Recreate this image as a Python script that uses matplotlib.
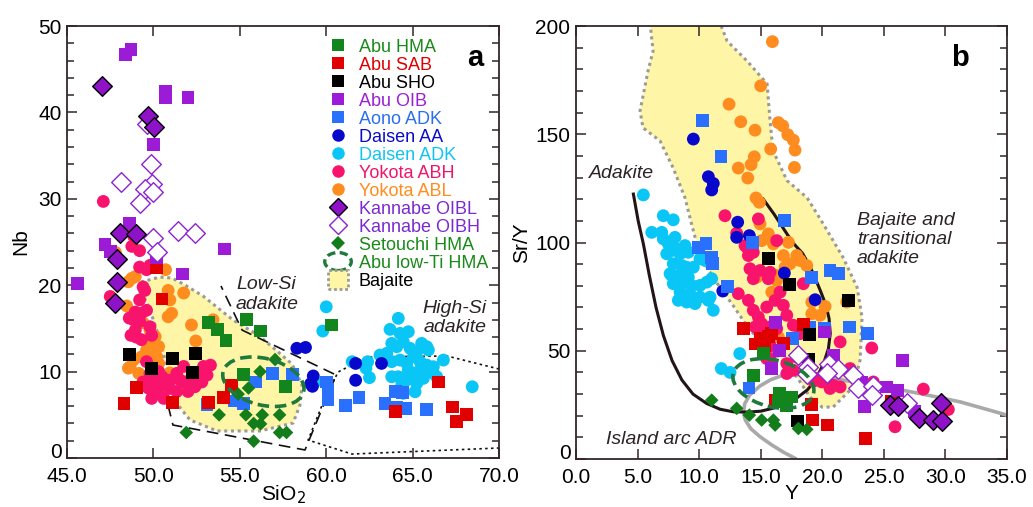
import matplotlib
matplotlib.use("Agg")
import matplotlib.pyplot as plt
import matplotlib.patches as mpatches
from matplotlib.lines import Line2D
from matplotlib.legend_handler import HandlerPatch
from matplotlib.ticker import MultipleLocator, FormatStrFormatter

plt.rcParams['font.family'] = ['Liberation Sans', 'DejaVu Sans']

# ---------------- panel a : SiO2 vs Nb ----------------
a_hma_x = [53.2, 53.7, 54.2, 55.4, 56.2, 55.2, 57.65, 60.3]
a_hma_y = [15.7, 14.9, 13.6, 16.0, 14.7, 9.7, 8.3, 15.4]
a_sab_x = [50.5, 50.2, 49.0, 48.3, 51.1, 54.5, 54.05, 53.2, 66.5, 67.3, 68.1, 67.55, 64.0]
a_sab_y = [18.4, 22.0, 8.2, 6.3, 6.4, 8.4, 7.0, 6.4, 8.8, 5.9, 5.0, 4.2, 5.4]
a_sho_x = [48.6, 49.9, 51.1, 52.45, 52.25]
a_sho_y = [12.0, 10.4, 11.5, 12.1, 9.9]
a_oib_x = [48.4, 48.7, 50.7, 50.7, 52.0, 50.0, 50.2, 54.1, 48.6, 47.2, 47.5, 51.7, 45.6]
a_oib_y = [46.7, 47.3, 42.4, 41.7, 41.7, 36.3, 23.2, 24.2, 27.1, 24.7, 23.9, 21.3, 20.2]
a_aono_x = [53.1, 54.7, 55.2, 55.9, 56.9, 58.05, 60.0, 60.1, 60.1, 61.1, 61.9, 63.4, 64.0, 64.4,
            64.1, 64.6, 65.8]
a_aono_y = [6.2, 6.6, 6.3, 8.8, 9.8, 9.7, 8.8, 7.9, 6.8, 6.1, 7.0, 6.3, 7.7, 7.6, 5.9, 5.75, 5.6]
a_daa_x = [58.3, 58.8, 59.25, 59.1, 59.2, 61.7, 61.7, 63.2]
a_daa_y = [12.7, 12.8, 9.5, 8.6, 8.3, 10.95, 9.0, 10.95]
a_dadk_x = [60.0, 59.8, 59.35, 61.5, 62.4, 62.3, 62.5, 64.17, 63.69, 63.79, 64.27, 64.75, 64.46,
            65.52, 65.82, 65.91, 63.11, 63.5, 63.79, 64.27, 64.66, 65.04, 65.24, 65.43, 65.82,
            66.2, 65.33, 64.95, 64.66, 65.24, 65.62, 66.2, 66.78, 65.14, 64.46, 63.79, 64.17,
            68.45, 66.39, 64.08, 64.85, 65.62, 64.75, 64.37]
a_dadk_y = [17.5, 14.7, 8.8, 11.15, 11.15, 10.4, 9.3, 16.17, 14.89, 13.27, 14.43, 14.62, 13.46,
            13.27, 12.88, 12.5, 11.92, 12.12, 11.15, 11.34, 10.96, 11.72, 12.3, 11.15, 10.76,
            10.57, 9.99, 9.41, 9.03, 8.65, 9.22, 9.8, 11.34, 7.67, 7.49, 9.41, 9.41,
            8.25, 9.41, 12.88, 12.7, 10.38, 10.19, 8.45]
a_abh_x = [47.1, 48.55, 48.85, 48.75, 49.2, 49.2, 49.8, 49.6, 49.5, 49.2, 49.4, 47.5, 48.95, 49.3,
           48.85, 49.2, 49.6, 48.95, 49.0, 49.3, 48.7, 49.8, 49.9, 50.0, 49.7, 50.2, 50.6, 50.4,
           50.95, 51.35, 51.75, 52.1, 52.6, 52.9, 53.1, 52.8, 52.4, 52.0, 51.55, 50.95, 50.5,
           51.35, 50.3, 49.8, 49.6, 51.75, 53.3, 49.9, 49.4, 48.6]
a_abh_y = [29.7, 26.5, 25.7, 24.5, 24.0, 22.1, 22.3, 21.8, 19.4, 18.3, 19.8, 18.7, 16.9, 16.75,
           16.0, 15.8, 17.1, 14.8, 14.0, 13.7, 14.2, 15.2, 14.2, 9.0, 8.1, 7.5, 6.9, 8.25,
           8.05, 7.7, 8.8, 9.0, 9.8, 10.6, 9.6, 8.8, 8.25, 7.7, 9.0, 9.0, 9.4,
           9.8, 10.0, 9.8, 11.15, 10.6, 10.75, 6.9, 8.8, 16.2]
a_abl_x = [47.8, 50.7, 48.75, 48.55, 48.95, 48.45, 50.85, 51.75, 50.95, 51.05, 50.85, 53.45, 52.2,
           52.45, 49.4, 49.8, 50.1, 49.9, 50.3, 50.0, 49.6, 50.2, 49.3, 48.85, 48.65, 49.15,
           48.55, 50.95, 50.25, 50.3]
a_abl_y = [23.8, 21.8, 20.8, 20.4, 21.0, 17.6, 19.4, 19.1, 18.3, 16.75, 16.35, 16.0, 15.4,
           13.55, 15.65, 14.8, 14.05, 13.3, 12.9, 12.3, 12.5, 11.7, 11.7, 11.35, 10.55, 9.8,
           10.4, 9.85, 9.2, 10.95]
a_oibl_x = [47.0, 49.7, 50.05, 48.05, 49.0, 47.9, 47.9, 47.8]
a_oibl_y = [43.1, 39.6, 38.3, 26.0, 25.9, 23.0, 20.4, 18.0]
a_oibh_x = [49.6, 49.85, 48.1, 49.9, 49.5, 50.0, 49.2, 51.4, 52.4, 50.0, 50.2]
a_oibh_y = [38.7, 34.0, 32.0, 31.7, 31.1, 30.8, 29.5, 26.3, 26.0, 25.5, 23.9]
a_seto_x = [57.04, 56.17, 55.5, 54.9, 53.8, 55.35, 56.3, 57.3, 55.8, 56.2, 57.3, 57.7, 51.9, 55.8]
a_seto_y = [11.4, 10.0, 8.1, 7.4, 5.0, 5.0, 5.0, 5.0, 4.0, 3.95, 2.95, 2.95, 2.95, 1.95]

# field outlines, panel a
a_bajaite_x = [49.28, 50.38, 51.08, 51.83, 52.87, 54.61, 56.05, 57.09, 58.02, 58.6, 58.48, 58.08,
               56.17, 53.68, 52.12, 51.42, 50.96, 50.38, 49.8, 49.4]
a_bajaite_y = [20.37, 20.95, 20.83, 20.02, 18.75, 15.97, 14.24, 12.5, 10.88, 8.45, 6.13, 4.05,
               3.13, 3.13, 4.4, 6.13, 9.03, 13.66, 17.13, 18.87]
a_lowsi_x = [50.84, 51.13, 58.77, 60.57, 55.13, 53.91]
a_lowsi_y = [6.13, 3.82, 0.93, 9.61, 14.81, 19.91]
a_highsi_x = [70.0, 66.99, 62.36, 60.68, 59.76, 58.95, 61.49, 70.0]
a_highsi_y = [10.3, 11.81, 11.69, 9.95, 6.13, 2.08, 0.46, 1.16]
a_lowti_center = (56.36, 8.83)

# ---------------- panel b : Y vs Sr/Y ----------------
b_hma_x = [14.4, 15.22, 16.52, 17.5, 17.08, 16.43]
b_hma_y = [38.7, 48.7, 30.3, 28.7, 24.9, 26.4]
b_sab_x = [13.59, 14.95, 15.62, 14.6, 15.35, 15.9, 18.46, 16.2, 19.15, 19.2, 20.45, 23.48, 25.64,
           16.84]
b_sab_y = [60.2, 55.8, 56.6, 53.1, 52.5, 57.9, 62.2, 27.0, 25.3, 18.0, 15.7, 9.5, 26.4, 53.3]
b_sho_x = [15.62, 17.33, 22.12, 18.95, 18.87, 18.01]
b_sho_y = [92.5, 80.6, 73.3, 57.5, 45.9, 17.6]
b_oib_x = [16.2, 20.17, 16.5, 20.9, 15.9, 23.2, 25.2, 26.1, 26.5, 23.4, 27.5]
b_oib_y = [62.9, 58.7, 50.0, 47.7, 41.8, 35.6, 33.3, 31.8, 45.6, 24.1, 21.8]
b_aono_x = [10.26, 11.78, 16.92, 9.94, 10.56, 11.02, 11.1, 14.35, 20.63, 21.31, 19.15, 12.32, 17.6,
            19.01, 20.2, 22.2, 23.7, 14.05]
b_aono_y = [156.5, 139.8, 110.1, 97.8, 99.4, 93.2, 90.2, 99.9, 87.1, 85.6, 84.0, 79.7, 55.6,
            61.0, 60.2, 61.0, 57.9, 32.8]
b_daa_x = [9.53, 10.75, 11.15, 11.02, 13.13, 14.08, 13.05, 16.92, 11.92, 19.42]
b_daa_y = [147.8, 130.4, 127.3, 124.3, 109.4, 103.2, 102.4, 85.9, 77.6, 73.6]
b_dadk_x = [5.47, 7.09, 7.9, 6.15, 6.96, 7.09, 8.04, 7.5, 7.77, 8.18, 8.85, 8.45, 7.37, 7.9, 8.59,
            8.99, 7.64, 8.31, 9.12, 7.9, 8.59, 9.4, 8.45, 9.26, 10.07, 10.62, 11.02, 10.89, 10.07,
            11.15, 10.48, 10.75, 8.31, 8.99, 9.67, 10.75, 9.12, 9.53, 10.07, 13.3, 11.8, 12.51,
            7.77]
b_dadk_y = [122.0, 112.4, 110.5, 104.7, 104.7, 101.7, 102.4, 99.4, 96.3, 97.1, 98.6, 94.8, 94.8,
            90.2, 89.4, 88.6, 85.6, 84.8, 84.0, 81.0, 81.0, 80.2, 77.1, 76.4, 80.2, 81.7, 83.3,
            74.8, 74.8, 68.7, 91.7, 92.5, 73.3, 72.5, 71.8, 73.3, 95.5, 88.6, 92.5, 48.7, 41.8,
            40.0, 84.8]
b_abh_x = [12.1, 13.05, 14.81, 13.73, 14.13, 14.4, 14.95, 13.18, 15.76, 16.3, 18.46, 13.87, 14.0,
           14.4, 15.62, 16.57, 16.84, 16.17, 15.49, 14.0, 14.4, 14.81, 15.08, 14.54, 15.22, 15.76,
           16.3, 17.12, 17.65, 18.2, 21.45, 15.62, 15.76, 17.12, 17.93, 17.65, 18.74, 19.55,
           19.96, 20.63, 21.45, 22.26, 17.12, 24.02, 28.21, 30.24, 25.91, 24.15, 20.9, 15.49,
           15.76, 19.3]
b_abh_y = [112.4, 104.3, 110.9, 98.6, 87.9, 83.3, 87.1, 76.4, 86.3, 100.9, 81.0, 97.8, 94.0,
           95.5, 83.3, 77.1, 71.0, 73.3, 70.2, 73.3, 68.7, 65.6, 62.5, 61.0, 59.4, 61.0,
           60.2, 66.4, 61.8, 57.9, 54.1, 51.8, 46.4, 44.1, 47.1, 41.0, 41.8, 37.2,
           35.6, 32.6, 33.3, 41.8, 39.5, 51.3, 32.3, 22.9, 14.9, 35.6, 34.1, 46.4,
           52.5, 36.0]
b_abl_x = [15.95, 15.0, 12.43, 13.38, 14.54, 16.43, 16.79, 17.2, 17.65, 17.79, 15.81, 14.48, 14.22,
           13.18, 13.95, 17.74, 14.62, 14.89, 14.95, 15.62, 16.03, 15.08, 17.25, 16.84, 17.93,
           18.2, 18.74, 17.38, 16.3, 15.9, 19.15, 20.23, 19.82, 21.99, 16.43, 14.68, 16.98,
           19.15, 16.3]
b_abl_y = [192.8, 172.4, 163.9, 155.8, 151.9, 155.4, 153.9, 149.8, 147.3, 142.7, 143.2, 139.6,
           136.0, 134.4, 129.8, 134.7, 120.6, 118.6, 108.6, 104.0, 99.4, 100.9, 100.1, 94.0,
           94.0, 91.7, 89.4, 90.2, 84.8, 77.1, 72.5, 70.5, 66.4, 72.5, 56.4, 84.0, 88.6,
           67.1, 82.5]
b_oibl_x = [25.51, 26.18, 27.89, 29.02, 29.71, 29.65]
b_oibl_y = [24.9, 24.4, 18.8, 18.0, 17.6, 25.7]
b_oibh_x = [18.06, 18.87, 18.74, 20.58, 21.31, 20.37, 22.48, 22.93, 24.15, 24.02, 26.86]
b_oibh_y = [47.9, 42.5, 39.2, 44.1, 41.8, 39.8, 38.7, 32.9, 33.6, 29.5, 25.9]
b_seto_x = [11.02, 13.05, 14.08, 15.08, 16.03, 16.17, 18.06, 18.74]
b_seto_y = [27.2, 23.4, 20.3, 18.0, 18.0, 15.7, 14.1, 13.7]

# field outlines, panel b
b_bajaite_x = [6.01, 6.26, 5.85, 5.2, 5.44, 6.82, 7.88, 8.85, 9.42, 10.07, 11.29, 12.75, 14.13,
               16.41, 17.95, 19.01, 19.98, 20.88, 22.5, 23.07, 23.23, 22.83, 21.69, 20.06, 18.77,
               17.14, 16.0, 15.76, 15.52, 13.89, 12.27, 11.7]
b_bajaite_y = [201.4, 188.5, 179.3, 160.8, 153.0, 147.0, 134.6, 120.7, 107.8, 94.0, 82.5, 71.0,
               59.4, 47.5, 37.8, 28.6, 24.0, 24.0, 33.2, 45.6, 65.4, 79.3, 93.1, 108.8, 120.7,
               128.6, 142.4, 156.2, 173.3, 183.9, 193.1, 201.4]
b_adakite_x = [4.66, 5.05, 5.47, 5.95, 6.5, 7.1, 7.8, 8.6, 9.5, 10.6, 11.7, 12.8, 14.0, 15.0, 16.1,
               17.1, 18.0, 18.8, 19.5, 20.1, 20.5, 20.65, 20.55, 20.3, 19.9, 19.5, 19.0, 18.4,
               17.6, 16.9, 16.1, 15.2]
b_adakite_y = [122.4, 110.0, 99.4, 85.0, 70.0, 57.0, 45.5, 36.5, 30.0, 25.7, 23.0, 21.8, 21.7,
               22.1, 23.6, 25.7, 28.5, 32.0, 37.0, 44.0, 51.0, 58.0, 65.0, 71.0, 77.0, 82.5,
               89.0, 95.0, 100.0, 106.0, 113.0, 120.1]
b_adr_x = [17.9, 16.9, 15.9, 14.95, 14.2, 13.75, 13.6, 13.7, 14.1, 14.95, 15.8, 16.6, 17.8, 19.0,
           20.3, 21.7, 23.7, 25.8, 28.5, 31.2, 35.0]
b_adr_y = [0.0, 3.0, 6.5, 10.3, 14.0, 18.0, 21.5, 25.5, 29.5, 33.8, 36.6, 38.3, 39.2, 39.5,
           38.3, 36.4, 34.6, 32.6, 29.6, 26.4, 20.3]
b_lowti_center = (16.03, 34.9)

YELLOW = '#FFF5A6'
GRAY_EDGE = '#9A9A9A'
LOWTI_GREEN = '#1E7A3C'
TEXT_DARK = '#2B2326'
SPINE = '#33262A'

# series style: label, marker, size, face, edge, text colour
STYLE = {
    'abl':  ('Yokota ABL', 'o', 85, '#FF8C1E', 'none', '#FF8C1E'),
    'abh':  ('Yokota ABH', 'o', 85, '#F8146C', 'none', '#F0146A'),
    'dadk': ('Daisen ADK', 'o', 85, '#0AC6F6', 'none', '#10C4F2'),
    'daa':  ('Daisen AA', 'o', 85, '#0808CC', 'none', '#0A0ACD'),
    'aono': ('Aono ADK', 's', 85, '#2A70FF', 'none', '#2A6EF0'),
    'sab':  ('Abu SAB', 's', 85, '#E00000', 'none', '#E00000'),
    'oib':  ('Abu OIB', 's', 85, '#9B1BD6', 'none', '#9B1FD6'),
    'hma':  ('Abu HMA', 's', 85, '#12861C', 'none', '#1A8A1A'),
    'sho':  ('Abu SHO', 's', 85, '#000000', 'none', '#000000'),
    'seto': ('Setouchi HMA', 'D', 48, '#137C1B', 'none', '#1A8A1A'),
    'oibh': ('Kannabe OIBH', 'D', 100, 'white', '#8E22D2', '#7A2AD0'),
    'oibl': ('Kannabe OIBL', 'D', 100, '#8E12C8', '#000000', '#7A2AD0'),
}
DRAW_ORDER = ['abl', 'abh', 'dadk', 'daa', 'aono', 'sab', 'oib', 'hma', 'sho', 'seto', 'oibh', 'oibl']
LEGEND_ORDER = ['hma', 'sab', 'sho', 'oib', 'aono', 'daa', 'dadk', 'abh', 'abl', 'oibl', 'oibh', 'seto']

A_DATA = {'hma': (a_hma_x, a_hma_y), 'sab': (a_sab_x, a_sab_y), 'sho': (a_sho_x, a_sho_y),
          'oib': (a_oib_x, a_oib_y), 'aono': (a_aono_x, a_aono_y), 'daa': (a_daa_x, a_daa_y),
          'dadk': (a_dadk_x, a_dadk_y), 'abh': (a_abh_x, a_abh_y), 'abl': (a_abl_x, a_abl_y),
          'oibl': (a_oibl_x, a_oibl_y), 'oibh': (a_oibh_x, a_oibh_y), 'seto': (a_seto_x, a_seto_y)}
B_DATA = {'hma': (b_hma_x, b_hma_y), 'sab': (b_sab_x, b_sab_y), 'sho': (b_sho_x, b_sho_y),
          'oib': (b_oib_x, b_oib_y), 'aono': (b_aono_x, b_aono_y), 'daa': (b_daa_x, b_daa_y),
          'dadk': (b_dadk_x, b_dadk_y), 'abh': (b_abh_x, b_abh_y), 'abl': (b_abl_x, b_abl_y),
          'oibl': (b_oibl_x, b_oibl_y), 'oibh': (b_oibh_x, b_oibh_y), 'seto': (b_seto_x, b_seto_y)}


def draw_points(ax, data):
    for key in DRAW_ORDER:
        label, marker, size, face, edge, _ = STYLE[key]
        xs, ys = data[key]
        lw = 1.0 if edge != 'none' else 0
        ax.scatter(xs, ys, s=size, marker=marker, c=face, edgecolors=edge,
                   linewidths=lw, zorder=4, clip_on=False)


def lowti_ellipse(ax, center):
    # dashed outline for the Abu low-Ti HMA group, drawn in axes fraction
    cx, cy = ax.transLimits.transform(center)
    e = mpatches.Ellipse((cx, cy), 0.192, 0.108, angle=-14, transform=ax.transAxes,
                         fill=False, edgecolor=LOWTI_GREEN, linewidth=2.6,
                         linestyle=(0, (3.2, 1.6)), zorder=5)
    ax.add_patch(e)


def style_axes(ax, xmaj, ymaj, ymin):
    ax.xaxis.set_major_locator(MultipleLocator(xmaj))
    ax.xaxis.set_major_formatter(FormatStrFormatter('%.1f'))
    ax.yaxis.set_major_locator(MultipleLocator(ymaj))
    ax.yaxis.set_minor_locator(MultipleLocator(ymin))
    ax.tick_params(which='both', direction='in', top=True, right=True, color=SPINE,
                   labelsize=15, width=1.1)
    ax.tick_params(axis='x', which='both', pad=6.5)
    ax.tick_params(axis='y', which='both', pad=4)
    ax.tick_params(which='major', length=7)
    ax.tick_params(which='minor', length=5)
    for sp in ax.spines.values():
        sp.set_color(SPINE)
        sp.set_linewidth(1.3)


def lift_zero_label(ax):
    # the "0" on the y axis sits on its tick so it clears the first x label
    for tick in ax.yaxis.get_major_ticks():
        if abs(tick.get_loc()) < 1e-9:
            tick.label1.set_verticalalignment('baseline')


fig = plt.figure(figsize=(10.33, 5.07), dpi=100)
ax_a = fig.add_axes([0.0649, 0.0966, 0.4182, 0.852])
ax_b = fig.add_axes([0.5576, 0.0946, 0.4172, 0.854])

# ---- panel a ----
ax_a.set_xlim(45, 70)
ax_a.set_ylim(0, 50)
ax_a.fill(a_bajaite_x, a_bajaite_y, facecolor=YELLOW, edgecolor=GRAY_EDGE, linewidth=2.2,
          linestyle=(0, (1, 1.2)), zorder=1)
ax_a.plot(a_lowsi_x, a_lowsi_y, color='#111111', linewidth=1.2, linestyle=(0, (7, 4)), zorder=2)
ax_a.plot(a_highsi_x, a_highsi_y, color='#111111', linewidth=1.2, linestyle=(0, (1.5, 2)),
          zorder=2)
draw_points(ax_a, A_DATA)
lowti_ellipse(ax_a, a_lowti_center)
ax_a.text(56.55, 18.9, 'Low-Si\nadakite', style='italic', fontsize=14, color=TEXT_DARK,
          ha='center', va='center', linespacing=1.25)
ax_a.text(69.3, 16.2, 'High-Si\nadakite', style='italic', fontsize=14, color=TEXT_DARK,
          ha='right', va='center', multialignment='right', linespacing=1.12)
ax_a.text(0.944, 0.926, 'a', transform=ax_a.transAxes, fontsize=21, fontweight='bold',
          ha='center', va='center')
style_axes(ax_a, 5, 10, 2)
ax_a.set_xlabel('SiO$_2$', fontsize=15, labelpad=-2)
ax_a.set_ylabel('Nb', fontsize=15, labelpad=6)

handles = []
for key in LEGEND_ORDER:
    label, marker, size, face, edge, _ = STYLE[key]
    ms = 9 if marker != 'D' else (7 if key == 'seto' else 9.5)
    handles.append(Line2D([], [], linestyle='none', marker=marker, markersize=ms,
                          markerfacecolor=face,
                          markeredgecolor=edge if edge != 'none' else face,
                          markeredgewidth=1.0 if edge != 'none' else 0, label=label))
lowti_handle = mpatches.Ellipse((0, 0), 1, 1, fill=False, edgecolor=LOWTI_GREEN, linewidth=2.4,
                                linestyle=(0, (2.5, 1.3)), label='Abu low-Ti HMA')
bajaite_handle = mpatches.Patch(facecolor=YELLOW, edgecolor=GRAY_EDGE, linewidth=2,
                                linestyle=(0, (1, 1)), label='Bajaite')
handles += [lowti_handle, bajaite_handle]


def make_ellipse(legend, orig_handle, xdescent, ydescent, width, height, fontsize):
    return mpatches.Ellipse((width / 2 - xdescent, height / 2 - ydescent), width * 1.05,
                            height * 1.2)


def make_square(legend, orig_handle, xdescent, ydescent, width, height, fontsize):
    side = height * 1.3
    return mpatches.Rectangle((width / 2 - side / 2 - xdescent, height / 2 - side / 2 - ydescent),
                              side, side)


leg = ax_a.legend(handles=handles, loc='upper left', bbox_to_anchor=(0.598, 0.972),
                  frameon=False, fontsize=13, labelspacing=0.015, handlelength=1.4,
                  handleheight=0.9, handletextpad=0.45, borderaxespad=0, borderpad=0,
                  handler_map={lowti_handle: HandlerPatch(patch_func=make_ellipse),
                               bajaite_handle: HandlerPatch(patch_func=make_square)})
text_cols = [STYLE[k][5] for k in LEGEND_ORDER] + ['#1A8A1A', '#000000']
for t, c in zip(leg.get_texts(), text_cols):
    t.set_color(c)
leg.set_zorder(6)

# ---- panel b ----
ax_b.set_xlim(0, 35)
ax_b.set_ylim(0, 200)
ax_b.fill(b_bajaite_x, b_bajaite_y, facecolor=YELLOW, edgecolor=GRAY_EDGE, linewidth=2.2,
          linestyle=(0, (1, 1.2)), zorder=1)
ax_b.plot(b_adr_x, b_adr_y, color='#A9A9A9', linewidth=2.6, zorder=2, solid_capstyle='butt')
ax_b.plot(b_adakite_x, b_adakite_y, color='#231417', linewidth=2.2, zorder=3)
draw_points(ax_b, B_DATA)
lowti_ellipse(ax_b, b_lowti_center)
ax_b.text(3.66, 131.8, 'Adakite', style='italic', fontsize=14, color=TEXT_DARK,
          ha='center', va='center')
ax_b.text(22.8, 101.5, 'Bajaite and\ntransitional\nadakite', style='italic', fontsize=14,
          color=TEXT_DARK, ha='left', va='center', linespacing=1.17)
ax_b.text(7.72, 8.8, 'Island arc ADR', style='italic', fontsize=14, color=TEXT_DARK,
          ha='center', va='center')
ax_b.text(0.891, 0.926, 'b', transform=ax_b.transAxes, fontsize=21, fontweight='bold',
          ha='center', va='center')
style_axes(ax_b, 5, 50, 10)
ax_b.set_xlabel('Y', fontsize=15, labelpad=-2)
ax_b.set_ylabel('Sr/Y', fontsize=15, labelpad=3)

fig.canvas.draw()
lift_zero_label(ax_a)
lift_zero_label(ax_b)
fig.savefig('out.png', dpi=100)
